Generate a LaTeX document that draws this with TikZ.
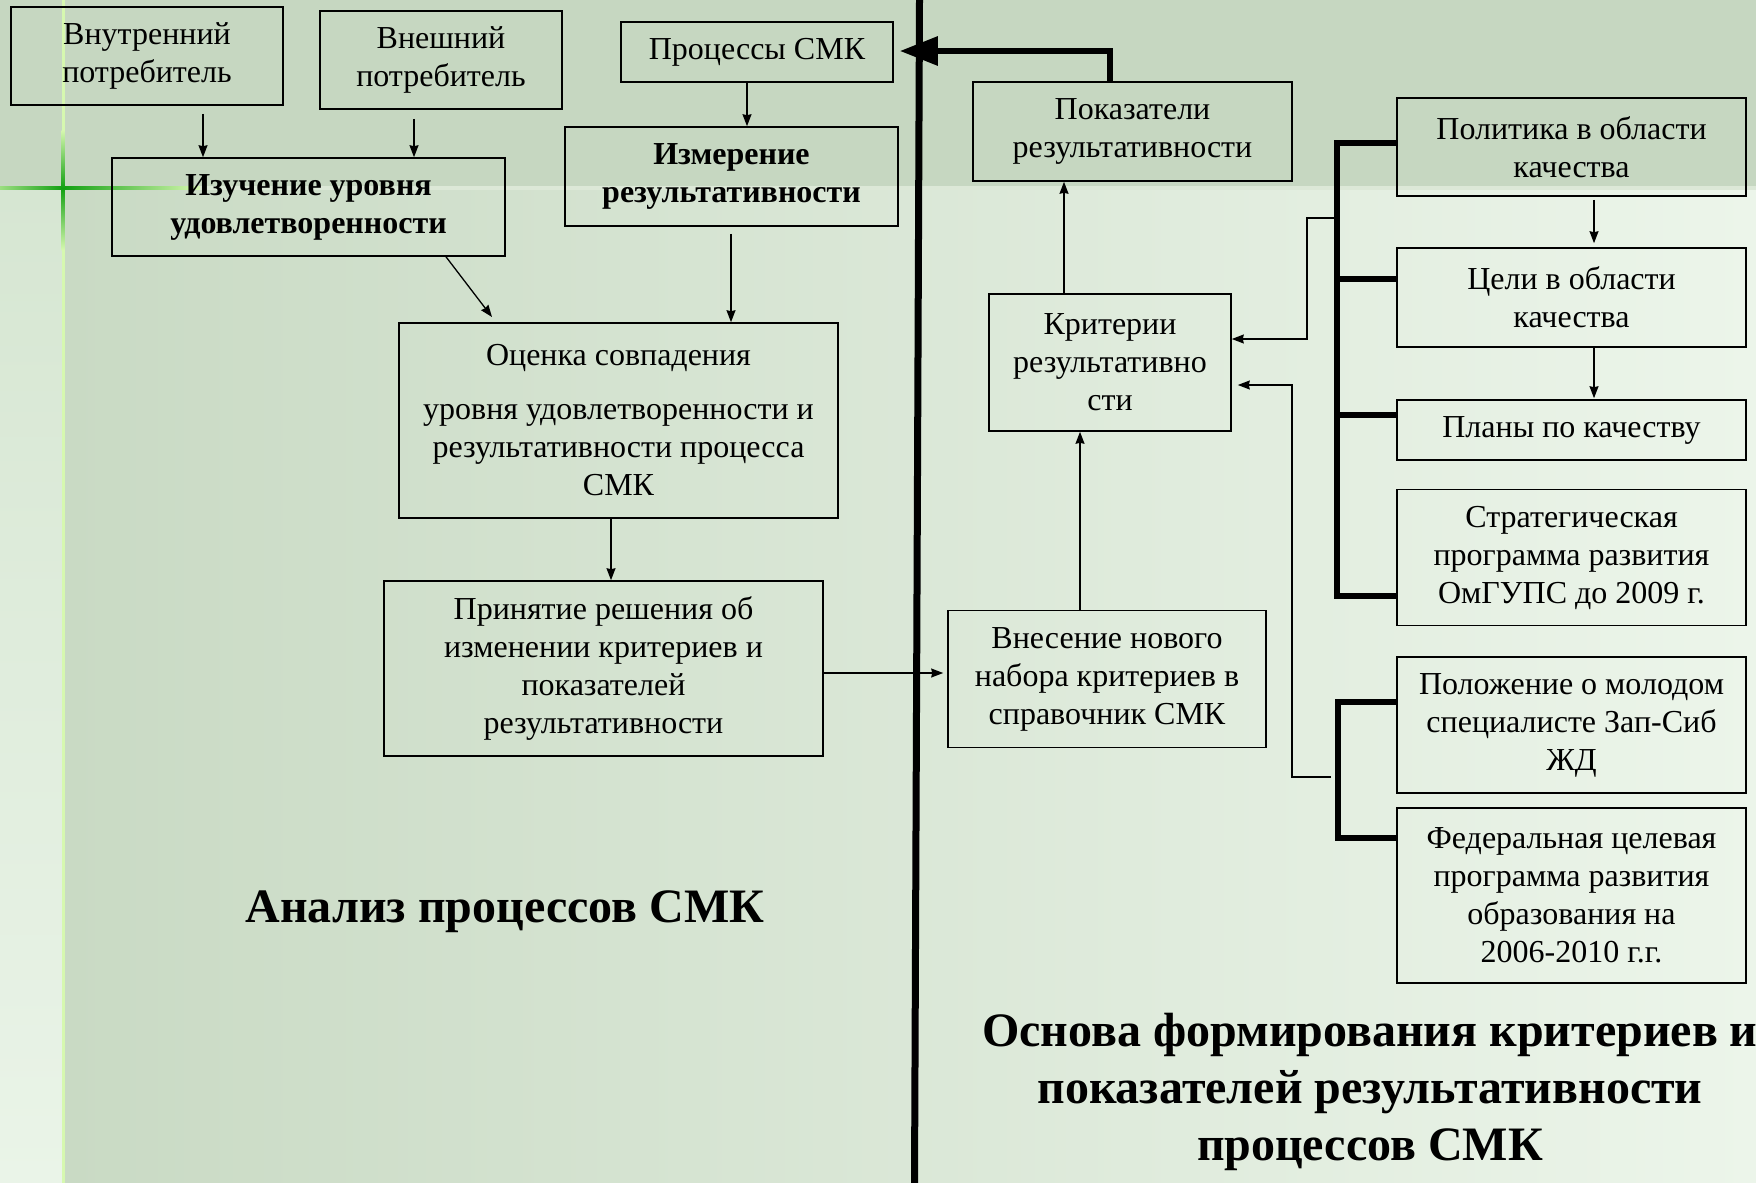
\documentclass[tikz,border=0pt]{standalone}
\usepackage{fontspec}
\setmainfont{Liberation Serif}
\usetikzlibrary{arrows.meta,calc}
\definecolor{band}{HTML}{C6D7C1}
\definecolor{bandhi}{HTML}{DCE8D7}
\definecolor{lowL}{HTML}{C9DAC4}
\definecolor{lowR}{HTML}{ECF5EA}
\definecolor{stripT}{HTML}{D6E6D2}
\definecolor{stripB}{HTML}{EAF4E8}
\definecolor{glowL}{HTML}{D6F8B0}
\definecolor{glowD}{HTML}{12A012}
\begin{document}
\begin{tikzpicture}[x=1pt,y=-1pt,
  box/.style={draw=black, line width=1.6pt, inner sep=0pt, align=center,
    font=\fontsize{32}{38}\selectfont},
  bbox/.style={box, font=\bfseries\fontsize{32}{38}\selectfont},
  arr/.style={line width=1.3pt, -{Stealth[length=12pt,width=9pt,inset=1pt]}},
  heavy/.style={line width=6pt},
  ttl/.style={align=center, font=\bfseries\fontsize{48}{57}\selectfont}]
\useasboundingbox (0,0) rectangle (1756,1183);
% background
\fill[band] (0,0) rectangle (1756,187);
\shade[left color=lowL, right color=lowR] (63,187) rectangle (1756,1183);
\shade[top color=stripT, bottom color=stripB] (0,187) rectangle (63,1183);
\fill[bandhi] (63,185.5) rectangle (1756,190);
\fill[glowL] (61.5,0) rectangle (64.5,1183);
\shade[left color=glowL!70!glowD, right color=glowD] (0,186.5) rectangle (63,189.5);
\shade[left color=glowD, right color=glowL] (63,186.5) rectangle (200,189.5);
\shade[top color=glowL, bottom color=glowD] (61.5,130) rectangle (64.5,188);
\shade[top color=glowD, bottom color=glowL] (61.5,188) rectangle (64.5,250);
% main divider
\coordinate (divtop) at (919.5,0);
\coordinate (divbot) at (914.5,1183);
\draw[line width=7pt] (divtop) -- (divbot);
% left boxes
\node[box, minimum width=272pt, minimum height=98pt] (vnut) at (147,56) {Внутренний\\потребитель};
\node[box, minimum width=242pt, minimum height=98pt] (vnesh) at (441,60) {Внешний\\потребитель};
\node[box, minimum width=272pt, minimum height=60pt] (proc) at (757,52) {Процессы СМК};
\node[bbox, minimum width=393pt, minimum height=98pt] (izuch) at (308.5,207) {Изучение уровня\\удовлетворенности};
\node[bbox, minimum width=333pt, minimum height=99pt] (izmer) at (731.5,176.5) {Измерение\\результативности};
\node[box, minimum width=439pt, minimum height=195pt] (ocenka) at (618.5,420.5) {Оценка совпадения\\[16pt]уровня удовлетворенности и\\результативности процесса\\СМК};
\node[box, minimum width=439pt, minimum height=175pt] (prin) at (603.5,668.5) {Принятие решения об\\изменении критериев и\\показателей\\результативности};
% right boxes
\node[box, minimum width=319pt, minimum height=99pt] (pokaz) at (1132.5,131.5) {Показатели\\результативности};
\node[box, minimum width=242pt, minimum height=137pt] (krit) at (1110,362.5) {Критерии\\результативно\\сти};
\node[box, minimum width=318pt, minimum height=137pt] (vnes) at (1107,679) {Внесение нового\\набора критериев в\\справочник СМК};
\node[box, minimum width=349pt, minimum height=98pt] (polit) at (1571.5,147) {Политика в области\\качества};
\node[box, minimum width=349pt, minimum height=99pt] (celi) at (1571.5,297.5) {Цели в области\\качества};
\node[box, minimum width=349pt, minimum height=60pt] (plany) at (1571.5,430) {Планы по качеству};
\node[box, minimum width=349pt, minimum height=136pt] (strat) at (1571.5,557.5) {Стратегическая\\программа развития\\ОмГУПС до 2009 г.};
\node[box, minimum width=349pt, minimum height=136pt] (polozh) at (1571.5,725) {Положение о молодом\\специалисте Зап-Сиб\\ЖД};
\node[box, minimum width=349pt, minimum height=175pt] (feder) at (1571.5,895.5) {Федеральная целевая\\программа развития\\образования на\\2006-2010 г.г.};
% titles
\node[ttl] (t1) at (505,912) {Анализ процессов СМК};
\node[ttl] (t2) at (1370,1092) {Основа формирования критериев и\\показателей результативности\\процессов СМК};
% thin arrows, left side
\draw[arr, shorten <=8pt] (vnut.south -| 203,0) -- (izuch.north -| 203,0);
\draw[arr, shorten <=9pt] (vnesh.south -| 414,0) -- (izuch.north -| 414,0);
\draw[arr] (proc.south -| 747,0) -- (izmer.north -| 747,0);
\coordinate (d1) at (492,317);
\draw[arr] (izuch.south -| 446,0) -- (d1);
\draw[arr, shorten <=7pt] (izmer.south -| 731,0) -- (ocenka.north -| 731,0);
\draw[arr] (ocenka.south -| 611,0) -- (prin.north -| 611,0);
\draw[arr, shorten >=4pt] (prin.east |- 0,673) -- (vnes.west |- 0,673);
% thin arrows, right side
\draw[arr] (krit.north -| 1064,0) -- (pokaz.south -| 1064,0);
\draw[arr] (vnes.north -| 1080,0) -- (krit.south -| 1080,0);
\draw[arr, shorten <=3pt, shorten >=4pt] (polit.south -| 1594,0) -- (celi.north -| 1594,0);
\draw[arr, shorten >=1pt] (celi.south -| 1594,0) -- (plany.north -| 1594,0);
\coordinate (b1) at (1337,218);
\draw[arr, line width=1.2pt] (b1) -- (1307,218) -- (1307,339) -- (krit.east |- 0,339);
\coordinate (b2) at (1331,777);
\draw[arr, line width=1.2pt, shorten >=6pt] (b2) -- (1292,777) -- (1292,385) -- (krit.east |- 0,385);
% heavy arrow to processes
\draw[heavy, -{Triangle[length=38pt,width=28pt]}, shorten >=6pt] (pokaz.north -| 1110,0) -- (1110,51) -- (proc.east |- 0,51);
% brackets
\draw[heavy] (polit.west |- 0,143) -- (1337,143) -- (1337,596) -- (strat.west |- 0,596);
\draw[heavy] (1337,279) -- (celi.west |- 0,279);
\draw[heavy] (1337,415) -- (plany.west |- 0,415);
\draw[heavy] (polozh.west |- 0,702) -- (1338,702) -- (1338,838) -- (feder.west |- 0,838);
\end{tikzpicture}
\end{document}
